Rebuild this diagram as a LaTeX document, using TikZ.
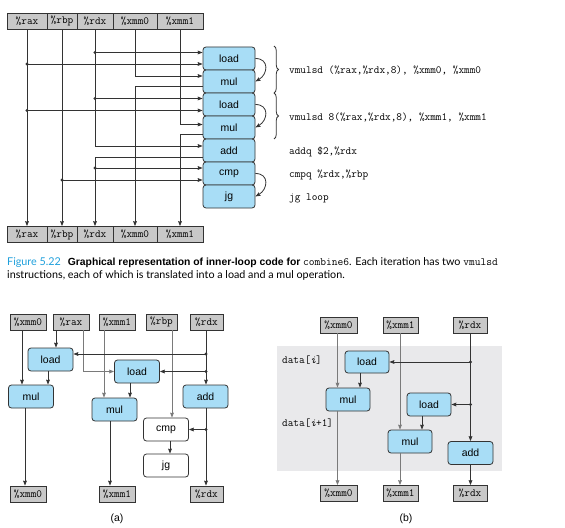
\documentclass[tikz,border=0pt]{standalone}
\usepackage{fontspec}
\setmainfont{Lato}
\newfontfamily\opfont{Liberation Sans}
\usetikzlibrary{calc,arrows.meta,decorations.pathreplacing}
\definecolor{opfill}{HTML}{A8DDF6}
\definecolor{regfill}{HTML}{C8C8C8}
\definecolor{edge}{HTML}{333333}
\definecolor{grayline}{HTML}{7A7A7A}
\definecolor{figblue}{HTML}{1FA0DC}
\definecolor{bgpanel}{HTML}{E9E9EB}
\tikzset{
  reg/.style={draw=edge, fill=regfill, line width=0.8bp, minimum height=16bp, inner sep=0pt,
    font=\fontsize{11}{12}\selectfont\ttfamily},
  op/.style={draw=edge, fill=opfill, line width=0.8bp, rounded corners=3bp,
    minimum width=52bp, minimum height=23bp, inner sep=0pt,
    font=\opfont\fontsize{10.5}{12}\selectfont},
  opw/.style={op, fill=white},
  sop/.style={op, minimum width=45bp},
  sopw/.style={sop, fill=white},
  code/.style={anchor=west, inner sep=0pt, font=\fontsize{11}{12}\selectfont\ttfamily},
  conn/.style={draw=edge, line width=0.8bp, -{Stealth[length=5bp,width=3.8bp,inset=0.6bp]}},
  gconn/.style={conn, draw=grayline},
  dotc/.style={fill=edge},
  bracec/.style={draw=edge, line width=0.8bp, decorate, decoration={brace, amplitude=4.5bp}},
  capt/.style={anchor=base west, inner sep=0pt, font=\fontsize{10.8}{12}\selectfont},
  sublabel/.style={inner sep=0pt, font=\opfont\fontsize{10.5}{12}\selectfont},
}
\newcommand{\captt}[1]{{\fontsize{11.2}{12}\selectfont\ttfamily #1}}
\newcommand{\capbf}[1]{{\opfont\bfseries\fontsize{10.4}{12}\selectfont #1}}
\begin{document}
\begin{tikzpicture}[x=1bp,y=-1bp]
\useasboundingbox[fill=white] (0,0) rectangle (565,528);

% ================= TOP FIGURE =================
\node[reg, minimum width=40bp] (raxT) at (27,21) {\%rax};
\node[reg, minimum width=30bp] (rbpT) at (62,21) {\%rbp};
\node[reg, minimum width=36bp] (rdxT) at (95,21) {\%rdx};
\node[reg, minimum width=44bp] (xzT) at (135,21) {\%xmm0};
\node[reg, minimum width=46bp] (xoT) at (180,21) {\%xmm1};

\node[reg, minimum width=40bp] (raxB) at (27,234.5) {\%rax};
\node[reg, minimum width=30bp] (rbpB) at (62,234.5) {\%rbp};
\node[reg, minimum width=36bp] (rdxB) at (95,234.5) {\%rdx};
\node[reg, minimum width=44bp] (xzB) at (135,234.5) {\%xmm0};
\node[reg, minimum width=46bp] (xoB) at (180,234.5) {\%xmm1};

\node[op] (ld1) at (229,58.5) {load};
\node[op] (ml1) at (229,81.5) {mul};
\node[op] (ld2) at (229,104.5) {load};
\node[op] (ml2) at (229,127.5) {mul};
\node[op] (ad) at (229,150.5) {add};
\node[op] (cp) at (229,173.5) {cmp};
\node[op] (jg) at (229,196.5) {jg};

\coordinate (l1a) at ($(ld1.west)+(0,-6)$);
\coordinate (l1b) at ($(ld1.west)+(0,5.5)$);
\coordinate (m1a) at ($(ml1.west)+(0,-5.5)$);
\coordinate (m1b) at ($(ml1.west)+(0,5)$);
\coordinate (l2a) at ($(ld2.west)+(0,-6)$);
\coordinate (l2b) at ($(ld2.west)+(0,6)$);
\coordinate (m2a) at ($(ml2.west)+(0,-3)$);
\coordinate (m2b) at ($(ml2.west)+(0,6.5)$);
\coordinate (ada) at ($(ad.west)+(0,-4.5)$);
\coordinate (adb) at ($(ad.west)+(0,6.5)$);
\coordinate (cpa) at ($(cp.west)+(0,-5.5)$);
\coordinate (cpb) at ($(cp.west)+(0,6.5)$);

\draw[conn] (raxT) -- (raxB);
\draw[conn] (rbpT) -- (rbpB);
\draw[conn] (rdxT) |- (ada);
\draw[conn] (adb) -| (rdxB);
\draw[conn] (xzT) |- (m1a);
\draw[conn] (m1b) -| (xzB);
\draw[conn] (xoT) |- (m2a);
\draw[conn] (m2b) -| (xoB);
\draw[conn] (raxT |- l1b) -- (l1b);
\draw[conn] (raxT |- l2b) -- (l2b);
\draw[conn] (rdxT |- l1a) -- (l1a);
\draw[conn] (rdxT |- l2a) -- (l2a);
\draw[conn] (rdxB |- cpa) -- (cpa);
\draw[conn] (rbpT |- cpb) -- (cpb);
\foreach \p in {raxT |- l1b, raxT |- l2b, rdxT |- l1a, rdxT |- l2a, rdxB |- cpa, rbpT |- cpb}
  \fill[dotc] (\p) circle (1.6bp);

\draw[conn] (ld1.east) to[out=0,in=30,looseness=1.6] (ml1.east);
\draw[conn] (ld2.east) to[out=0,in=30,looseness=1.6] (ml2.east);
\draw[conn] (cp.east) to[out=0,in=30,looseness=1.6] (jg.east);

\draw[bracec] (274,46) -- (274,93);
\draw[bracec] (274,93) -- (274,139);

\node[code] (c1) at (289,70) {vmulsd (\%rax,\%rdx,8), \%xmm0, \%xmm0};
\node[code] (c2) at (289,117) {vmulsd 8(\%rax,\%rdx,8), \%xmm1, \%xmm1};
\node[code] (c3) at (289,152) {addq \$2,\%rdx};
\node[code] (c4) at (289,175) {cmpq \%rdx,\%rbp};
\node[code] (c5) at (289,198) {jg loop};

% ================= CAPTION =================
\node[capt] (cap1) at (7,265.5) {\textcolor{figblue}{Figure 5.22}\hspace{7bp}\capbf{Graphical representation of inner-loop code for} \captt{combine6}. Each iteration has two \captt{vmulsd}};
\node[capt] (cap2) at (7,278.5) {instructions, each of which is translated into a load and a mul operation.};

% ================= (a) =================
\node[reg, minimum width=36bp] (axz) at (28,322) {\%xmm0};
\node[reg, minimum width=36bp] (arax) at (71,322) {\%rax};
\node[reg, minimum width=36bp] (axo) at (117,322) {\%xmm1};
\node[reg, minimum width=31bp] (arbp) at (161.5,322) {\%rbp};
\node[reg, minimum width=33bp] (ardx) at (206.5,322) {\%rdx};
\node[reg, minimum width=36bp] (axzB) at (28,494) {\%xmm0};
\node[reg, minimum width=36bp] (axoB) at (117,494) {\%xmm1};
\node[reg, minimum width=33bp] (ardxB) at (206.5,494) {\%rdx};

\node[sop] (ald1) at (50.5,359.5) {load};
\node[sop] (aml1) at (31,396.5) {mul};
\node[sop] (ald2) at (137,371.5) {load};
\node[sop] (aml2) at (114.5,409.5) {mul};
\node[sop] (aad) at (205.5,396.5) {add};
\node[sopw] (acp) at (166,429.5) {cmp};
\node[sopw] (ajg) at (166,465.5) {jg};

\coordinate (a1) at ($(axz.south)+(-6,0)$);
\coordinate (a2) at ($(arax.south)+(-15,0)$);
\coordinate (a3) at ($(arax.south)+(12,0)$);
\coordinate (a4) at ($(ald1.south)+(-2.5,0)$);
\coordinate (a5) at ($(ardx.south)+(-0.5,0)$);
\coordinate (a5l) at ($(ald1.east)+(0,-5.5)$);
\coordinate (a6) at ($(axo.south)+(-13,0)$);
\coordinate (a7) at ($(ald2.south)+(-7,0)$);
\coordinate (a8) at ($(arbp.south)+(10.5,0)$);
\coordinate (a9) at ($(acp.south)+(4,0)$);
\coordinate (a10) at ($(aml1.south)+(-6,0)$);
\coordinate (a11) at ($(aml2.south)+(-4.5,0)$);
\coordinate (a12) at ($(aad.south)+(0.5,0)$);

\draw[conn] (a1) -- (a1 |- aml1.north);
\draw[conn] (a2) -- (a2 |- ald1.north);
\draw[gconn] (a3) |- (ald2.west);
\draw[conn] (a4) -- (a4 |- aml1.north);
\draw[gconn] (a6) -- (a6 |- aml2.north);
\draw[gconn] (a8) -- (a8 |- acp.north);
\draw[conn] (a5) -- (a5 |- aad.north);
\draw[conn] (a5 |- a5l) -- (a5l);
\draw[conn] (a5 |- ald2.east) -- (ald2.east);
\draw[conn] (a7) -- (a7 |- aml2.north);
\draw[conn] (a9) -- (a9 |- ajg.north);
\draw[conn] (a10) -- (a10 |- axzB.north);
\draw[conn] (a11) -- (a11 |- axoB.north);
\draw[conn] (a12) -- (a12 |- ardxB.north);
\draw[conn] (a12 |- acp.east) -- (acp.east);
\foreach \p in {a5 |- a5l, a5 |- ald2.east, a12 |- acp.east}
  \fill[dotc] (\p) circle (1.6bp);

\node[sublabel] (la) at (117,519) {(a)};

% ================= (b) =================
\fill[bgpanel] (277,346) rectangle (502,471);
\node[reg, minimum width=37bp] (bxz) at (338.5,325) {\%xmm0};
\node[reg, minimum width=35bp] (bxo) at (400.5,325) {\%xmm1};
\node[reg, minimum width=34bp] (brdx) at (470,325) {\%rdx};
\node[reg, minimum width=37bp] (bxzB) at (338.5,493.5) {\%xmm0};
\node[reg, minimum width=35bp] (bxoB) at (400.5,493.5) {\%xmm1};
\node[reg, minimum width=34bp] (brdxB) at (470,493.5) {\%rdx};

\node[sop, minimum width=44bp, minimum height=22bp] (bld1) at (367,362) {load};
\node[sop, minimum width=44bp] (bml1) at (348,399.5) {mul};
\node[sop, minimum width=44bp] (bld2) at (429,404.5) {load};
\node[sop, minimum width=44bp] (bml2) at (410,441.5) {mul};
\node[sop, minimum width=45bp] (bad) at (470.5,453) {add};

\coordinate (b1) at ($(bxz.south)+(-1,0)$);
\coordinate (b2) at ($(bld1.south)+(-7,0)$);
\coordinate (b3) at ($(bxo.south)+(-0.5,0)$);
\coordinate (b4) at ($(bld2.south)+(-7,0)$);
\coordinate (b5) at ($(brdx.south)+(0.5,0)$);

\draw[gconn] (b1) -- (b1 |- bml1.north);
\draw[gconn] (b1 |- bml1.south) -- (b1 |- bxzB.north);
\draw[conn] (b2) -- (b2 |- bml1.north);
\draw[gconn] (b3) -- (b3 |- bml2.north);
\draw[gconn] (b3 |- bml2.south) -- (b3 |- bxoB.north);
\draw[conn] (b4) -- (b4 |- bml2.north);
\draw[conn] (b5) -- (b5 |- bad.north);
\draw[conn] (b5 |- bad.south) -- (b5 |- brdxB.north);
\draw[conn] (b5 |- bld1.east) -- (bld1.east);
\draw[conn] (b5 |- bld2.east) -- (bld2.east);
\foreach \p in {b5 |- bld1.east, b5 |- bld2.east}
  \fill[dotc] (\p) circle (1.6bp);

\node[code] (d1) at (282,360) {data[{\itshape i}]};
\node[code] (d2) at (282,423) {data[{\itshape i}+1]};

\node[sublabel] (lb) at (406,519) {(b)};
\end{tikzpicture}
\end{document}
